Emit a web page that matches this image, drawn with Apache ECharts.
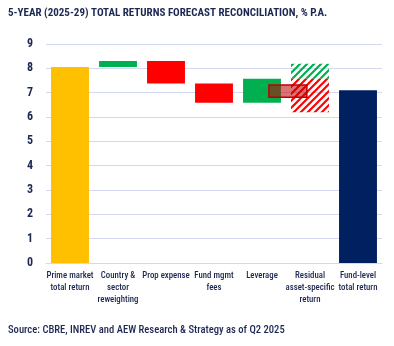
<!DOCTYPE html>
<html>
<head>
<meta charset="utf-8">
<style>
  html, body { margin: 0; padding: 0; background: #fff; }
  #chart { width: 394px; height: 346px; }
</style>
<script src="https://cdn.jsdelivr.net/npm/echarts@6/dist/echarts.min.js"></script>
</head>
<body>
<div id="chart"></div>
<script>
// Waterfall steps from prime market return to fund-level return (% p.a.)
const categories = [
  'Prime market\ntotal return',
  'Country &\nsector\nreweighting',
  'Prop expense',
  'Fund mgmt\nfees',
  'Leverage',
  'Residual\nasset-specific\nreturn',
  'Fund-level\ntotal return'
];
const barBase = [0, 8.05, 7.38, 6.59, 6.59, null, 0];
const barTop  = [8.05, 8.30, 8.30, 7.38, 7.57, null, 7.10];
const barKind = ['start', 'up', 'down', 'down', 'up', null, 'total'];

// Residual asset-specific return: uncertain range, split into upside / downside
const residualUp   = [7.57, 8.19];
const residualDown = [6.20, 7.57];

// Net leverage effect band
const leverageBand = [6.81, 7.31];

const yTicks = [0, 1, 2, 3, 4, 5, 6, 7, 8, 9];

const NAVY_TEXT = '#1c2752';
const COLORS = { start: '#FFC000', up: '#00B050', down: '#FF0000', total: '#002060' };
const FONT = '"Roboto Condensed", "Liberation Sans", sans-serif';

function hatch(color) {
  const s = 7;
  const c = document.createElement('canvas');
  c.width = s; c.height = s;
  const g = c.getContext('2d');
  g.strokeStyle = color;
  g.lineWidth = 2.2;
  g.beginPath();
  g.moveTo(-1, s + 1); g.lineTo(s + 1, -1);
  g.moveTo(-1, 1); g.lineTo(1, -1);
  g.moveTo(s - 1, s + 1); g.lineTo(s + 1, s - 1);
  g.stroke();
  return { image: c, repeat: 'repeat' };
}
const greenHatch = hatch('#00B050');
const redHatch = hatch('#FF0000');

const barData = categories.map((c, i) => [i, barBase[i], barTop[i], barKind[i]])
  .filter(d => d[1] !== null);

function rectFor(api, idx, lo, hi, shift) {
  const w = api.size([1, 0])[0];
  const bw = w * 0.79;
  const pLo = api.coord([idx, lo]);
  const pHi = api.coord([idx, hi]);
  const cx = pLo[0] + (shift || 0) * w;
  return { x: cx - bw / 2, y: pHi[1], width: bw, height: pLo[1] - pHi[1] };
}

const chart = echarts.init(document.getElementById('chart'), null, { renderer: 'canvas' });
chart.setOption({
  animation: false,
  textStyle: { fontFamily: FONT },
  title: [
    {
      text: '5-YEAR (2025-29) TOTAL RETURNS FORECAST RECONCILIATION, % P.A.',
      left: 8, top: 8, padding: 0,
      textStyle: { fontFamily: FONT, fontSize: 11, fontWeight: 'bold', color: NAVY_TEXT }
    },
    {
      text: 'Source: CBRE, INREV and AEW Research & Strategy as of Q2 2025',
      left: 8, top: 325, padding: 0,
      textStyle: { fontFamily: FONT, fontSize: 10.6, fontWeight: 500, color: NAVY_TEXT }
    }
  ],
  grid: { left: 46, right: 12, top: 44, bottom: 83, containLabel: false },
  xAxis: {
    type: 'category',
    data: categories,
    axisLine: { show: true, lineStyle: { color: '#d4d8f0', width: 1 } },
    axisTick: { show: false },
    axisLabel: {
      interval: 0, margin: 7, fontSize: 8.8, lineHeight: 12, fontWeight: 500,
      color: NAVY_TEXT, fontFamily: FONT
    }
  },
  yAxis: {
    type: 'value',
    min: 0, max: 9, interval: 1,
    axisLine: { show: false },
    axisTick: { show: false },
    splitLine: { lineStyle: { color: '#d4d8f0', width: 1 } },
    axisLabel: {
      margin: 13, fontSize: 12, fontWeight: 'bold', color: NAVY_TEXT, fontFamily: FONT,
      formatter: v => (yTicks.includes(v) ? String(v) : '')
    }
  },
  series: [
    {
      type: 'custom',
      data: barData,
      encode: { x: 0, y: [1, 2] },
      renderItem: (params, api) => {
        const i = api.value(0);
        const r = rectFor(api, i, api.value(1), api.value(2));
        return { type: 'rect', shape: r, style: { fill: COLORS[barData[params.dataIndex][3]] } };
      },
      z: 2
    },
    {
      type: 'custom',
      data: [[5, residualUp[0], residualUp[1], 'up'], [5, residualDown[0], residualDown[1], 'down']],
      encode: { x: 0, y: [1, 2] },
      renderItem: (params, api) => {
        const r = rectFor(api, api.value(0), api.value(1), api.value(2));
        return { type: 'rect', shape: r, style: { fill: params.dataIndex === 0 ? greenHatch : redHatch } };
      },
      z: 2
    },
    {
      type: 'custom',
      data: [[4, leverageBand[0], leverageBand[1]]],
      encode: { x: 0, y: [1, 2] },
      renderItem: (params, api) => {
        const r = rectFor(api, api.value(0), api.value(1), api.value(2), 0.54);
        return {
          type: 'rect', shape: r,
          style: { fill: 'rgba(192,0,0,0.55)', stroke: '#C00000', lineWidth: 1.5 }
        };
      },
      z: 3
    }
  ]
});
</script>
</body>
</html>
